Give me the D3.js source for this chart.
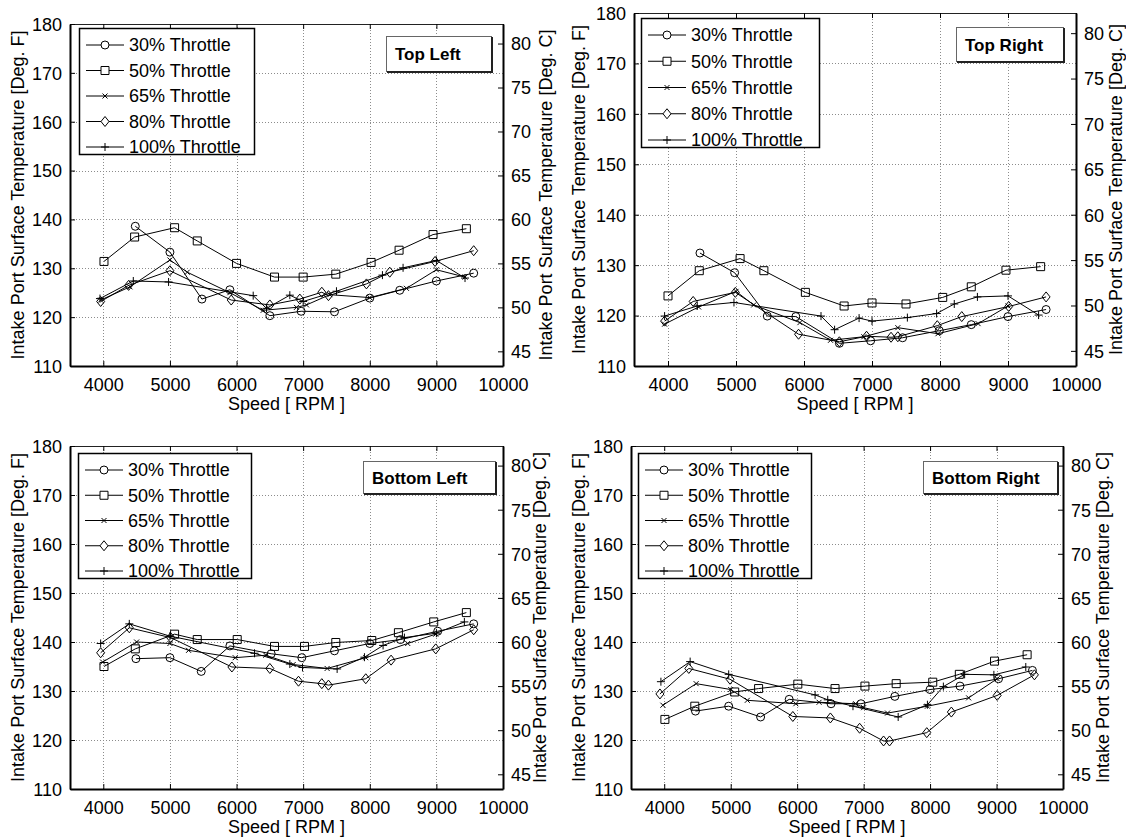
<!DOCTYPE html>
<html><head><meta charset="utf-8">
<script src="https://cdn.jsdelivr.net/npm/d3@7"></script>
<style>
html,body{margin:0;padding:0;background:#fff;}
svg{display:block;font-family:"Liberation Sans",Arial,sans-serif;}
</style></head>
<body>
<svg id="chart" width="1126" height="838"></svg>
<script>
// ---------- DATA ----------
const seriesNames = ["30% Throttle","50% Throttle","65% Throttle","80% Throttle","100% Throttle"];
const seriesMarkers = ["circle","square","x","diamond","plus"];
const panelTitles = ["Top Left","Top Right","Bottom Left","Bottom Right"];
const xTicks = [4000,5000,6000,7000,8000,9000,10000];
const fTicks = [110,120,130,140,150,160,170,180];
const cTicks = [45,50,55,60,65,70,75,80];
const xLabel = "Speed [ RPM ]";
const yLabelF = "Intake Port Surface Temperature [Deg. F]";
const yLabelC = "Intake Port Surface Temperature [Deg. C]";

// Top Left  [rpm, deg F]
const tl30  = [[4480,138.6],[5000,133.3],[5480,123.7],[5900,125.6],[6500,120.3],[6970,121.2],[7470,121.1],[8000,123.9],[8450,125.5],[9000,127.4],[9560,129.0]];
const tl50  = [[4010,131.4],[4470,136.4],[5070,138.3],[5410,135.6],[6000,131.0],[6570,128.2],[7000,128.2],[7490,128.8],[8020,131.2],[8440,133.7],[8950,136.9],[9450,138.1]];
const tl65  = [[3960,123.5],[4400,126.2],[5000,131.7],[5260,129.2],[5900,125.0],[6400,121.4],[6900,122.0],[7050,122.5],[7400,124.6],[8000,124.0],[8550,125.9],[9000,129.7],[9430,128.2]];
const tl80  = [[3960,123.2],[4380,126.5],[5000,129.5],[5920,123.5],[6500,122.5],[6950,123.7],[7280,125.1],[7380,124.4],[7950,126.8],[8300,129.2],[8980,131.4],[9560,133.6]];
const tl100 = [[3950,123.8],[4450,127.4],[4980,127.2],[6250,124.4],[6450,121.8],[6800,124.5],[7000,123.2],[7500,125.3],[8190,128.6],[8500,130.1],[9000,131.6],[9430,128.0]];

// Top Right
const tr30  = [[4470,132.4],[4980,128.5],[5460,119.9],[5880,119.8],[6520,114.5],[6980,115.0],[7450,115.6],[7990,117.0],[8460,118.2],[9000,119.8],[9560,121.2]];
const tr50  = [[4000,123.9],[4460,128.9],[5060,131.3],[5410,128.9],[6020,124.6],[6590,121.9],[7000,122.5],[7500,122.3],[8040,123.6],[8460,125.7],[8970,129.0],[9480,129.7]];
const tr65  = [[3950,118.3],[4450,121.7],[5000,124.8],[5260,122.1],[5940,118.6],[6390,115.1],[6880,115.8],[7380,117.6],[7970,116.4],[8560,118.4],[9000,121.9]];
const tr80  = [[3950,118.9],[4370,122.8],[4990,124.6],[5920,116.3],[6520,114.8],[6920,115.9],[7280,115.7],[7380,115.8],[7960,118.0],[8320,119.8],[9010,121.8],[9560,123.7]];
const tr100 = [[3950,119.9],[4430,121.9],[4970,122.6],[6250,119.9],[6450,117.2],[6810,119.5],[7000,118.9],[7520,119.6],[7950,120.4],[8210,122.3],[8550,123.7],[9000,123.9],[9450,120.1]];

// Bottom Left
const bl30  = [[4490,136.6],[5000,136.8],[5470,134.0],[5900,139.2],[6520,137.6],[6980,136.8],[7470,138.2],[8000,139.7],[8460,140.5],[9020,142.2],[9560,143.7]];
const bl50  = [[4010,135.0],[4480,138.6],[5070,141.6],[5410,140.5],[6010,140.5],[6570,139.1],[7020,139.1],[7490,139.9],[8030,140.3],[8430,141.9],[8960,144.1],[9450,146.0]];
const bl65  = [[3990,135.9],[4500,140.0],[5000,139.7],[5280,138.3],[5980,136.8],[6440,137.3],[6850,135.4],[7360,134.6],[7940,136.8],[8570,139.7],[8990,141.6]];
const bl80  = [[3960,137.8],[4390,142.9],[5010,140.9],[5930,134.9],[6500,134.6],[6930,132.0],[7280,131.5],[7380,131.2],[7940,132.5],[8320,136.3],[8990,138.6],[9560,142.5]];
const bl100 = [[3960,139.7],[4390,143.7],[5000,141.2],[6270,137.7],[6800,135.5],[6990,134.8],[7510,134.5],[7920,136.9],[8200,139.3],[8520,140.9],[9000,141.8],[9420,144.1]];

// Bottom Right
const br30  = [[4470,125.9],[4970,126.9],[5450,124.7],[5880,128.3],[6510,127.4],[6960,127.4],[7470,128.9],[8000,130.3],[8450,131.0],[9030,132.5],[9540,134.2]];
const br50  = [[4010,124.2],[4460,126.9],[5060,129.8],[5420,130.5],[6010,131.4],[6570,130.5],[7020,131.0],[7490,131.5],[8040,131.8],[8440,133.4],[8970,136.1],[9460,137.4]];
const br65  = [[3980,127.1],[4480,131.5],[5000,130.3],[5250,128.1],[5980,127.4],[6330,127.7],[6880,127.4],[7000,126.6],[7360,125.5],[7960,126.9],[8580,128.6],[9010,132.5]];
const br80  = [[3935,129.4],[4370,134.6],[4990,132.4],[5935,124.8],[6500,124.5],[6940,122.4],[7300,119.8],[7390,119.8],[7950,121.5],[8320,125.7],[9010,129.1],[9570,133.3]];
const br100 = [[3950,131.9],[4390,136.0],[4970,133.4],[6270,129.2],[6460,128.2],[6840,126.9],[7520,124.7],[7960,127.2],[8200,130.9],[8520,133.4],[8960,133.3],[9440,134.9]];

const panelData = [
  [tl30,tl50,tl65,tl80,tl100],
  [tr30,tr50,tr65,tr80,tr100],
  [bl30,bl50,bl65,bl80,bl100],
  [br30,br50,br65,br80,br100]
];

// ---------- LAYOUT ----------
const layout = [
  {x0:70,  x1:503,  y0:24,  y1:366, yl:18,  yr:546,  leg:{x:79, y:28, w:175,h:126}, tb:{x:386,y:36, w:105,h:35}},
  {x0:634, x1:1076, y0:13,  y1:366, yl:579, yr:1116, leg:{x:641,y:18, w:178,h:129}, tb:{x:956,y:27, w:107,h:34}},
  {x0:70,  x1:503,  y0:446, y1:789, yl:18,  yr:540,  leg:{x:78, y:453,w:173,h:125}, tb:{x:363,y:461,w:132,h:32}},
  {x0:631, x1:1063, y0:446, y1:789, yl:579, yr:1103, leg:{x:638,y:453,w:173,h:125}, tb:{x:923,y:461,w:134,h:32}}
];

const svg = d3.select("#chart");
const FS = 18;

function markerPath(type){
  switch(type){
    case "circle": return "M4,0A4,4 0 1,1 -4,0A4,4 0 1,1 4,0Z";
    case "square": return "M-4,-4H4V4H-4Z";
    case "x": return "M-2.5,-2.5L2.5,2.5M-2.5,2.5L2.5,-2.5";
    case "diamond": return "M0,-5L4,0L0,5L-4,0Z";
    case "plus": return "M-4,0H4M0,-4V4";
  }
}

const toC = f => (f-32)/1.8;

layout.forEach((L, pi) => {
  const g = svg.append("g");
  const x = d3.scaleLinear().domain([3500,10000]).range([L.x0, L.x1]);
  const y = d3.scaleLinear().domain([110,180]).range([L.y1, L.y0]);
  const yc = d3.scaleLinear().domain([toC(110), toC(180)]).range([L.y1, L.y0]);

  // grid
  const grid = g.append("g").attr("stroke","#8c8c8c").attr("stroke-width",1).attr("stroke-dasharray","1,2");
  grid.selectAll(".gx").data(xTicks.filter(t=>t<10000)).join("line")
    .attr("x1",d=>Math.round(x(d))+0.5).attr("x2",d=>Math.round(x(d))+0.5)
    .attr("y1",L.y0).attr("y2",L.y1);
  grid.selectAll(".gy").data(fTicks.filter(t=>t>110 && t<180)).join("line")
    .attr("y1",d=>Math.round(y(d))+0.5).attr("y2",d=>Math.round(y(d))+0.5)
    .attr("x1",L.x0).attr("x2",L.x1);

  // bottom axis
  const axB = d3.axisBottom(x).tickValues(xTicks).tickSizeInner(-5).tickSizeOuter(0).tickPadding(10).tickFormat(d3.format("d"));
  const gB = g.append("g").attr("transform",`translate(0,${L.y1})`).call(axB);
  // top ticks
  const axT = d3.axisTop(x).tickValues(xTicks).tickSizeInner(-5).tickSizeOuter(0).tickFormat("");
  const gT = g.append("g").attr("transform",`translate(0,${L.y0})`).call(axT);
  // left axis
  const axL = d3.axisLeft(y).tickValues(fTicks).tickSizeInner(-5).tickSizeOuter(0).tickPadding(8);
  const gL = g.append("g").attr("transform",`translate(${L.x0},0)`).call(axL);
  // right axis (deg C)
  const axR = d3.axisRight(yc).tickValues(cTicks).tickSizeInner(-5).tickSizeOuter(0).tickPadding(8);
  const gR = g.append("g").attr("transform",`translate(${L.x1},0)`).call(axR);

  [gB,gT,gL,gR].forEach(a=>{
    a.selectAll("text").attr("font-size",FS).attr("fill","#000").attr("font-family","Liberation Sans, Arial, sans-serif");
    a.selectAll(".tick line").attr("stroke","#000");
  });
  gB.selectAll(".domain").attr("stroke","#000").attr("stroke-width",2);
  gL.selectAll(".domain").attr("stroke","#000").attr("stroke-width",2);
  gR.selectAll(".domain").attr("stroke","#000").attr("stroke-width",2);
  gT.selectAll(".domain").attr("stroke","#222").attr("stroke-width",1);
  gB.selectAll("text").attr("dy","0.85em");
  gL.selectAll("text").attr("dy","0.35em");
  gR.selectAll("text").attr("dy","0.35em");

  // axis labels
  g.append("text").attr("x",(L.x0+L.x1)/2).attr("y",L.y1+44).attr("text-anchor","middle")
    .attr("font-size",FS).text(xLabel);
  g.append("text").attr("transform",`translate(${L.yl},${(L.y0+L.y1)/2}) rotate(-90)`)
    .attr("text-anchor","middle").attr("dominant-baseline","central").attr("font-size",FS).text(yLabelF);
  g.append("text").attr("transform",`translate(${L.yr},${(L.y0+L.y1)/2}) rotate(-90)`)
    .attr("text-anchor","middle").attr("dominant-baseline","central").attr("font-size",FS).text(yLabelC);

  // series
  const line = d3.line().x(d=>x(d[0])).y(d=>y(d[1]));
  panelData[pi].forEach((s, si) => {
    g.append("path").datum(s).attr("d",line).attr("fill","none").attr("stroke","#000").attr("stroke-width",1);
    g.selectAll(null).data(s).join("path")
      .attr("transform",d=>`translate(${x(d[0])},${y(d[1])})`)
      .attr("d",markerPath(seriesMarkers[si]))
      .attr("fill","none").attr("stroke","#000").attr("stroke-width",1);
  });

  // legend
  const lg = g.append("g").attr("transform",`translate(${L.leg.x},${L.leg.y})`);
  lg.append("rect").attr("x",0.5).attr("y",0.5).attr("width",L.leg.w).attr("height",L.leg.h)
    .attr("fill","#fff").attr("stroke","#000").attr("stroke-width",1.5);
  const rowH = (L.leg.h-24)/4;
  seriesNames.forEach((nm, si) => {
    const ry = 17 + si*rowH;
    lg.append("line").attr("x1",7).attr("x2",45).attr("y1",ry).attr("y2",ry).attr("stroke","#000").attr("stroke-width",1);
    lg.append("path").attr("transform",`translate(26,${ry})`).attr("d",markerPath(seriesMarkers[si]))
      .attr("fill","#fff").attr("stroke","#000").attr("stroke-width",1);
    lg.append("text").attr("x",50).attr("y",ry).attr("dy","0.35em").attr("font-size",FS).text(nm);
  });

  // title box
  const tb = g.append("g").attr("transform",`translate(${L.tb.x},${L.tb.y})`);
  tb.append("rect").attr("x",0.5).attr("y",0.5).attr("width",L.tb.w).attr("height",L.tb.h)
    .attr("fill","#fff").attr("stroke","#666").attr("stroke-width",1);
  tb.append("path").attr("d",`M${L.tb.w+1},1V${L.tb.h+1}H1`).attr("fill","none").attr("stroke","#222").attr("stroke-width",2);
  tb.append("text").attr("x",9).attr("y",L.tb.h/2+1).attr("dy","0.35em").attr("font-size",17)
    .attr("font-weight","bold").text(panelTitles[pi]);
});
</script>
</body></html>
